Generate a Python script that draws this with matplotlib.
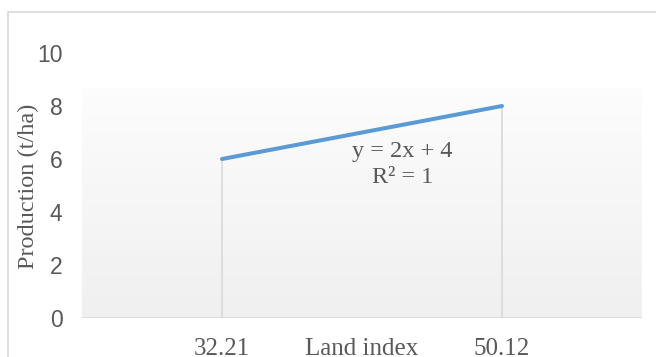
import numpy as np
import matplotlib
matplotlib.use("Agg")
import matplotlib.pyplot as plt
from matplotlib.patches import Rectangle
import matplotlib.transforms as mtrans

categories = ["32.21", "50.12"]
production = [6, 8]
y_ticks = [0, 2, 4, 6, 8, 10]
x_title = "Land index"
y_title = "Production (t/ha)"
eq_lines = ["y = 2x + 4", "R² = 1"]

W, H = 656, 357
fig = plt.figure(figsize=(W / 100, H / 100), dpi=100)
fig.patch.set_facecolor("white")

# outer chart border
fig.add_artist(Rectangle((8 / W, -0.1), 1.2, (H - 12) / H + 0.1, transform=fig.transFigure,
                         fill=False, edgecolor="#d9d9d9", linewidth=1.2))

ax = fig.add_axes([82 / W, (H - 318) / H, (642 - 82) / W, (318 - 53) / H])
ax.set_xlim(-0.5, 1.5)
ax.set_ylim(0, 10)
ax.patch.set_alpha(0)

# gradient plot-area fill
grad_top = (318 - 89) / 26.5
g = np.linspace(0.99, 0.94, 256).reshape(-1, 1)
img = np.dstack([g, g, g])
ax.imshow(img, extent=[-0.5, 1.5, 0, grad_top], aspect="auto", origin="upper", zorder=0)

x = np.arange(len(categories))
ax.vlines(x, 0, production, colors="#d9d9d9", linewidth=1.2, zorder=1)
ax.plot(x, production, color="#5b9bd5", linewidth=2.9, solid_capstyle="round", zorder=3)
ax.axhline(0, color="#d9d9d9", linewidth=1.2, zorder=2)

for s in ax.spines.values():
    s.set_visible(False)

ax.set_yticks(y_ticks)
ax.set_yticklabels([str(v) for v in y_ticks], fontfamily="Liberation Sans", fontsize=16.5, color="#595959")
ax.tick_params(axis="y", length=0, pad=14)
ax.set_xticks(x)
ax.set_xticklabels(categories, fontfamily="Liberation Serif", fontsize=18, color="#595959")
ax.tick_params(axis="x", length=0, pad=14.5)

ax.text(0.5, 0.0, x_title, ha="center", va="top",
        transform=ax.get_xaxis_transform() + mtrans.ScaledTranslation(0, -14.5 / 72, fig.dpi_scale_trans),
        fontfamily="Liberation Serif", fontsize=18, color="#595959")

fig.text(28 / W, 1 - 186 / H, y_title, rotation=90, ha="center", va="center",
         fontfamily="Liberation Serif", fontsize=17.5, color="#595959")

ax.text(0.645, 5.8, eq_lines[0] + "\n" + eq_lines[1], ha="center", va="center",
        fontfamily="Liberation Serif", fontsize=17.5, color="#595959", linespacing=1.3)

fig.savefig("out.png", dpi=100)
